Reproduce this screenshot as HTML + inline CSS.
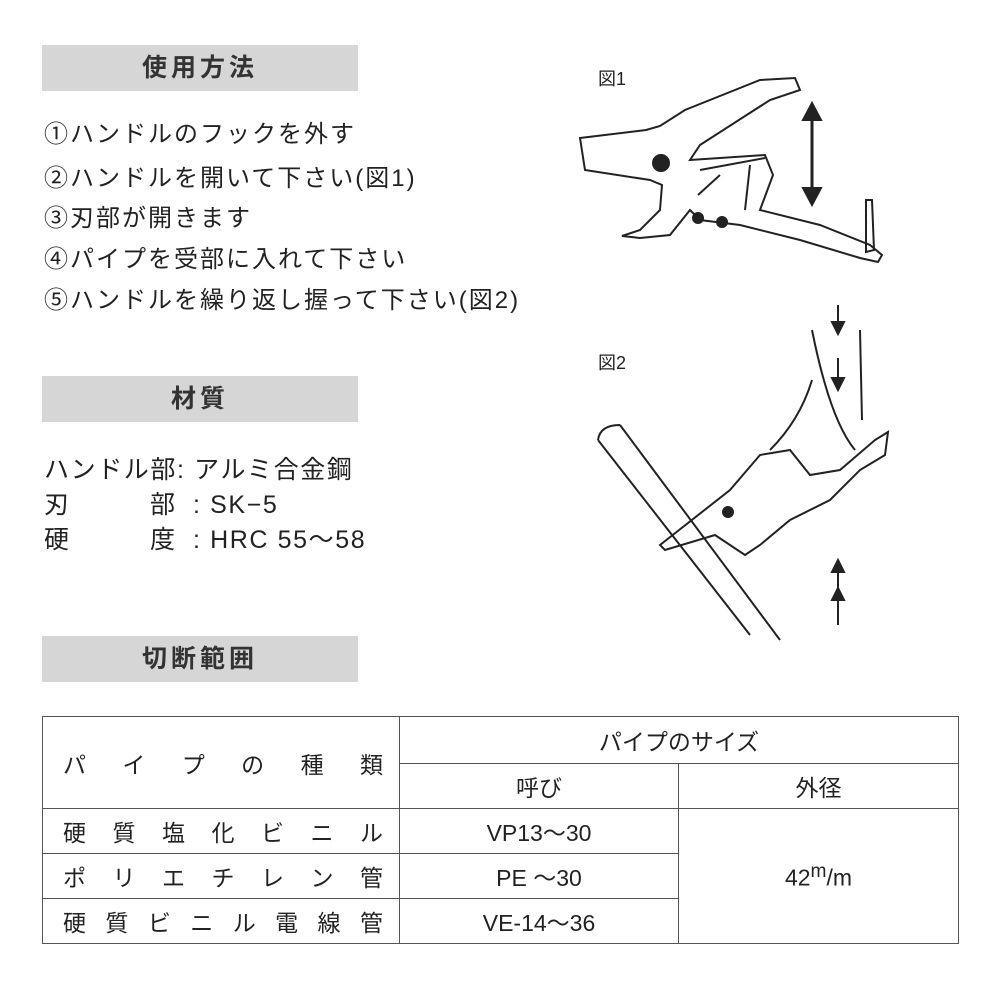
<!DOCTYPE html>
<html><head><meta charset="utf-8"><style>
body{margin:0;width:1000px;height:1000px;background:#fff;position:relative;overflow:hidden;font-family:"Liberation Sans","Noto Sans CJK JP",sans-serif;color:#222}
.h{position:absolute;left:42px;width:316px;height:46px;background:#d6d6d6;font-size:25px;font-weight:bold;line-height:46px;text-align:center;letter-spacing:4px;color:#333}
.t{position:absolute;font-size:24px;letter-spacing:2px;white-space:nowrap;line-height:30px}
.m{position:absolute;font-size:25px;white-space:nowrap;letter-spacing:1.6px;line-height:30px}
table{position:absolute;left:42px;top:716px;border-collapse:collapse;font-size:23px}
td{border:1.5px solid #555;padding:0;text-align:center}
.j{display:flex;justify-content:space-between;padding:0 16px 0 20px}
</style></head><body>
<div class="h" style="top:45px">使用方法</div>
<div class="t" style="left:44px;top:120px">①ハンドルのフックを外す</div>
<div class="t" style="left:44px;top:164px">②ハンドルを開いて下さい(図1)</div>
<div class="t" style="left:44px;top:204px">③刃部が開きます</div>
<div class="t" style="left:44px;top:245px">④パイプを受部に入れて下さい</div>
<div class="t" style="left:44px;top:286px">⑤ハンドルを繰り返し握って下さい(図2)</div>
<div class="h" style="top:376px">材質</div>
<div class="m" style="left:44px;top:455px">ハンドル部: アルミ合金鋼</div>
<div class="m" style="left:44px;top:490px">刃</div><div class="m" style="left:150px;top:490px">部</div><div class="m" style="left:193px;top:490px">: SK−5</div>
<div class="m" style="left:44px;top:525px">硬</div><div class="m" style="left:150px;top:525px">度</div><div class="m" style="left:193px;top:525px">: HRC 55〜58</div>
<div class="h" style="top:636px">切断範囲</div>
<table>
<tr style="height:47px"><td rowspan="2" style="width:356px"><div class="j"><span>パ</span><span>イ</span><span>プ</span><span>の</span><span>種</span><span>類</span></div></td><td colspan="2">パイプのサイズ</td></tr>
<tr style="height:45px"><td style="width:278px">呼び</td><td style="width:279px">外径</td></tr>
<tr style="height:45px"><td><div class="j"><span>硬</span><span>質</span><span>塩</span><span>化</span><span>ビ</span><span>ニ</span><span>ル</span></div></td><td>VP13〜30</td><td rowspan="3">42<sup>m</sup>/m</td></tr>
<tr style="height:45px"><td><div class="j"><span>ポ</span><span>リ</span><span>エ</span><span>チ</span><span>レ</span><span>ン</span><span>管</span></div></td><td>PE 〜30</td></tr>
<tr style="height:45px"><td><div class="j"><span>硬</span><span>質</span><span>ビ</span><span>ニ</span><span>ル</span><span>電</span><span>線</span><span>管</span></div></td><td>VE-14〜36</td></tr>
</table>
<div class="t" style="left:598px;top:64px;font-size:18px;letter-spacing:0">図1</div>
<div class="t" style="left:598px;top:348px;font-size:18px;letter-spacing:0">図2</div>
<svg width="1000" height="1000" style="position:absolute;left:0;top:0" fill="none" stroke="#222" stroke-width="2">
<path d="M580,138 L646,130 L660,126 L685,110 L760,80 L795,78 L800,90 L770,100 L700,145 L690,160 L765,155 L773,175 L760,210 L820,225 L870,245 L882,255 L878,262 L860,258 L800,240 L740,225 L700,220 L690,210 L670,235 L640,238 L622,236 L640,230 L660,210 L662,185 L650,180 L585,170 Z"/>
<circle cx="661" cy="163" r="8" fill="#222"/>
<circle cx="698" cy="218" r="5" fill="#222"/><circle cx="722" cy="222" r="5" fill="#222"/>
<path d="M700,170 L765,158 M698,195 L720,175 M750,165 L745,210"/>
<path d="M866,200 L872,200 L874,250 L866,252 Z"/>
<path d="M812,108 L812,200" stroke-width="3"/>
<path d="M803,120 L812,103 L821,120 Z M803,188 L812,205 L821,188 Z" fill="#222"/>
<path d="M598,440 L750,635 M620,425 L780,640 M598,440 Q600,425 620,425"/>
<path d="M660,545 L730,490 L760,455 L790,450 L810,475 L840,470 L875,440 L888,432 L885,455 L860,470 L830,500 L790,520 L760,545 L745,555 L715,535 L665,550 Z"/>
<path d="M812,330 Q830,420 855,450 M860,330 L862,420 M770,450 Q800,420 812,380"/>
<circle cx="728" cy="512" r="5" fill="#222"/>
<path d="M838,305 L838,330 M838,358 L838,385 M838,565 L838,590 M838,600 L838,625" stroke-width="2"/>
<path d="M832,322 L838,334 L844,322 Z M832,378 L838,390 L844,378 Z M832,572 L838,560 L844,572 Z M832,600 L838,588 L844,600 Z" fill="#222"/>
</svg>
</body></html>
